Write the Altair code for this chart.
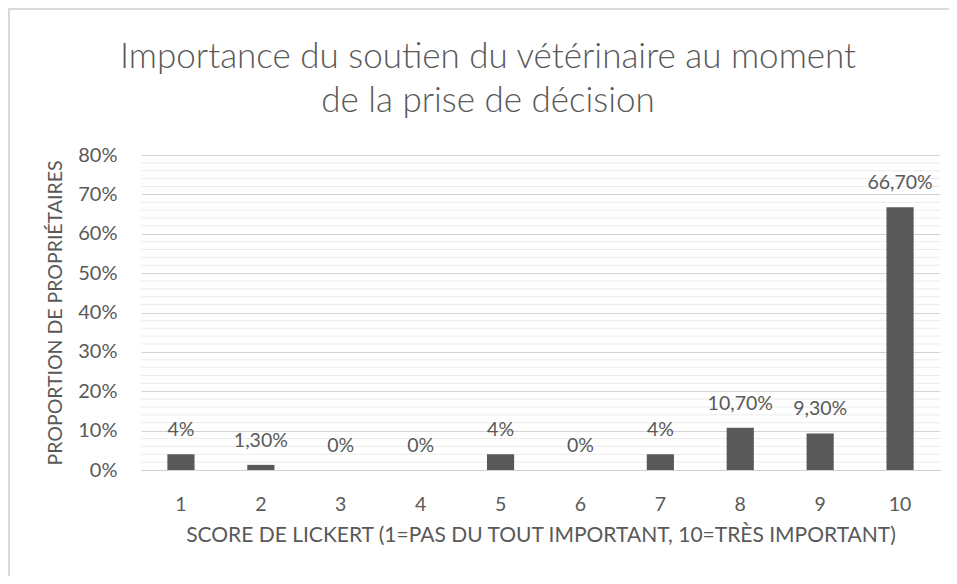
import altair as alt
import pandas as pd

title_lines = ["Importance du soutien du vétérinaire au moment", "de la prise de décision"]
scores = ["1", "2", "3", "4", "5", "6", "7", "8", "9", "10"]
values = [0.04, 0.013, 0.0, 0.0, 0.04, 0.0, 0.04, 0.107, 0.093, 0.667]
value_labels = ["4%", "1,30%", "0%", "0%", "4%", "0%", "4%", "10,70%", "9,30%", "66,70%"]
major_ticks = [0, 0.1, 0.2, 0.3, 0.4, 0.5, 0.6, 0.7, 0.8]
minor_ticks = [v / 100 for v in range(2, 80, 2) if v % 10 != 0]

df = pd.DataFrame({"score": scores, "value": values, "label": value_labels})
minor_df = pd.DataFrame({"value": minor_ticks})
title_df = pd.DataFrame({"t": ["\n".join(title_lines)]})

FONT = "Lato"
GREY = "#595959"

yscale = alt.Scale(domain=[0, 0.8], nice=False)
xscale = alt.Scale(paddingInner=0.66, paddingOuter=0.33)

x_axis = alt.Axis(title="SCORE DE LICKERT (1=PAS DU TOUT IMPORTANT, 10=TRÈS IMPORTANT)",
                  labelAngle=0, ticks=False, domain=True, domainColor="#d0d0d0",
                  labelPadding=25, titlePadding=11, labelFontSize=19.5,
                  titleFontSize=21, titleFontWeight="normal")
y_axis = alt.Axis(title="PROPORTION DE PROPRIÉTAIRES", values=major_ticks, format=".0%",
                  ticks=False, domain=False, gridColor="#d4d4d4", labelPadding=24,
                  labelOverlap=False, titlePadding=12, labelFontSize=20,
                  titleFontSize=19.5, titleFontWeight="normal")

minor = alt.Chart(minor_df).mark_rule(color="#ececec", strokeWidth=1).encode(
    y=alt.Y("value:Q", scale=yscale, axis=y_axis)
)

bars = alt.Chart(df).mark_bar(color=GREY).encode(
    x=alt.X("score:N", sort=scores, scale=xscale, axis=x_axis),
    y=alt.Y("value:Q", scale=yscale, axis=y_axis),
)

text = alt.Chart(df).mark_text(color=GREY, font=FONT, fontSize=19.5, baseline="alphabetic", dy=-18).encode(
    x=alt.X("score:N", sort=scores, scale=xscale, axis=x_axis),
    y=alt.Y("value:Q", scale=yscale, axis=y_axis),
    text="label:N",
)

title = alt.Chart(title_df).mark_text(
    color=GREY, font=FONT, fontSize=35, fontWeight=300, lineBreak="\n", lineHeight=44,
    align="center", baseline="alphabetic",
).encode(x=alt.value(347), y=alt.value(-87), text="t:N")

frame_top = alt.Chart(title_df).mark_rule(color="#d9d9d9", strokeWidth=2).encode(
    x=alt.value(-133), x2=alt.value(820), y=alt.value(-146)
)
frame_left = alt.Chart(title_df).mark_rule(color="#d9d9d9", strokeWidth=2).encode(
    x=alt.value(-132), y=alt.value(-147), y2=alt.value(430)
)

chart = alt.layer(minor, bars, text, title, frame_top, frame_left).properties(
    width=799,
    height=315,
    autosize=alt.AutoSizeParams(type="none"),
    padding={"left": 133, "top": 147, "right": 9, "bottom": 106},
).configure_axis(
    labelFont=FONT, titleFont=FONT, labelColor=GREY, titleColor=GREY,
).configure_view(stroke=None)

chart.save("out.html", embed_options={"renderer": "svg", "actions": False})
